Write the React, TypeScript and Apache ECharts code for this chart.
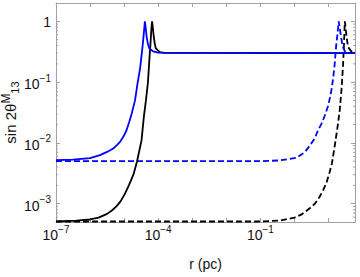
import React, { useEffect, useRef } from "react";
import * as echarts from "echarts";

// ---- data (r in pc, sin 2θ^M_13) ----
const blueSolidR = [1e-7, 3.16e-7, 1e-6, 1.95e-6, 3.16e-6, 4.79e-6, 6.03e-6, 7.59e-6, 9.55e-6, 1.17e-5, 1.41e-5, 1.66e-5, 2.09e-5, 2.51e-5, 2.95e-5, 3.31e-5, 3.63e-5, 3.89e-5, 4.07e-5, 4.37e-5, 4.57e-5, 5.01e-5, 5.5e-5, 7.08e-5, 1e-4, 60];
const blueSolidY = [5.2e-3, 5.3e-3, 5.6e-3, 6.3e-3, 7.1e-3, 8.1e-3, 9.1e-3, 0.0104, 0.0127, 0.016, 0.022, 0.03, 0.05, 0.1, 0.17, 0.3, 0.49, 0.75, 1.0, 0.72, 0.56, 0.42, 0.36, 0.32, 0.305, 0.3];

const blackSolidR = [1e-7, 3.98e-7, 1e-6, 1.78e-6, 3.16e-6, 4.47e-6, 6.03e-6, 7.94e-6, 1.05e-5, 1.38e-5, 1.91e-5, 2.4e-5, 3.24e-5, 3.8e-5, 4.37e-5, 5.01e-5, 5.5e-5, 6.03e-5, 6.31e-5, 6.61e-5, 7.08e-5, 7.41e-5, 7.94e-5, 8.51e-5, 1.12e-4, 1.58e-4, 60];
const blackSolidY = [5.1e-4, 5.25e-4, 5.5e-4, 5.9e-4, 6.8e-4, 7.8e-4, 9.1e-4, 1.1e-3, 1.45e-3, 2.0e-3, 3.1e-3, 5.0e-3, 0.011, 0.027, 0.05, 0.1, 0.23, 0.49, 0.75, 1.0, 0.72, 0.56, 0.43, 0.36, 0.31, 0.302, 0.3];

const blueDashR = [1e-7, 0.1, 0.372, 1.15, 2.0, 2.82, 3.98, 4.9, 6.31, 7.76, 9.66, 11.0, 12.2, 13.8, 15.1, 17.0, 18.6, 19.95, 21.4, 22.9, 25.7, 30.2, 39.8, 60];
const blueDashY = [5.0e-3, 5.0e-3, 5.15e-3, 5.7e-3, 7.0e-3, 9.0e-3, 0.012, 0.016, 0.021, 0.028, 0.04, 0.055, 0.074, 0.12, 0.19, 0.43, 0.65, 1.0, 0.78, 0.6, 0.4, 0.32, 0.305, 0.3];

const blackDashR = [1e-7, 0.1, 0.398, 1.0, 1.58, 2.82, 3.98, 5.5, 6.92, 8.71, 10.8, 12.6, 15.1, 19.1, 21.4, 24.0, 26.6, 28.5, 30.2, 33.1, 37.2, 46.8, 60];
const blackDashY = [5.1e-4, 5.1e-4, 5.3e-4, 5.9e-4, 6.6e-4, 8.4e-4, 1.0e-3, 1.3e-3, 1.66e-3, 2.2e-3, 3.3e-3, 4.6e-3, 8.6e-3, 0.021, 0.035, 0.074, 0.18, 0.43, 1.0, 0.63, 0.38, 0.32, 0.3];

const xMin = 1e-7;
const xMax = 60;
const yMin = 5e-4;
const yMax = 2;
const xLabelExps = [-7, -4, -1];
const yLabelExps = [0, -1, -2, -3];
const yMinorTicks = [
  6e-4, 7e-4, 8e-4, 9e-4,
  2e-3, 3e-3, 4e-3, 5e-3, 6e-3, 7e-3, 8e-3, 9e-3,
  2e-2, 3e-2, 4e-2, 5e-2, 6e-2, 7e-2, 8e-2, 9e-2,
  0.2, 0.3, 0.4, 0.5, 0.6, 0.7, 0.8, 0.9,
];

const FONT = "'Liberation Sans', Arial, sans-serif";
const TEXT = "#111";
const FRAME = "#a0a0a0";
const BLUE = "#0000ff";
const BLACK = "#000000";
const LW = 1.8;

function zip(r: number[], y: number[]) {
  return r.map((v, i) => [v, y[i]]);
}

function exponentOf(v: number): number | null {
  const e = Math.log10(v);
  const r = Math.round(e);
  return Math.abs(e - r) < 1e-6 ? r : null;
}

function powLabel(e: number) {
  if (e === 0) return "{b|1}";
  return `{b|10}{s|−${-e}}`;
}

const labelRich = {
  b: { fontSize: 14, lineHeight: 16, fontFamily: FONT, color: TEXT, verticalAlign: "bottom" },
  s: { fontSize: 10, lineHeight: 18, fontFamily: FONT, color: TEXT, verticalAlign: "top", padding: [0, 0, 4, 0] },
};

export default function App() {
  const ref = useRef<HTMLDivElement>(null);

  useEffect(() => {
    document.body.style.margin = "0";
    if (!ref.current) return;
    const chart = echarts.init(ref.current, null, { renderer: "svg" });

    const axisCommon = {
      type: "log" as const,
      logBase: 10,
      splitNumber: 10,
      axisLine: { show: true, lineStyle: { color: FRAME, width: 1 } },
      axisTick: { show: true, inside: true, length: 4, lineStyle: { color: FRAME, width: 1 } },
      splitLine: { show: false },
      minorTick: { show: false },
    };

    const option: any = {
      animation: false,
      backgroundColor: "#ffffff",
      grid: { left: 56, right: 5, top: 3, bottom: 55, containLabel: false, outerBoundsMode: "none" },
      xAxis: [
        {
          ...axisCommon,
          position: "bottom",
          min: xMin,
          max: xMax,
          name: "r (pc)",
          nameLocation: "middle",
          nameGap: 35,
          nameMoveOverlap: false,
          nameTextStyle: { fontSize: 14, fontFamily: FONT, color: TEXT },
          axisLabel: {
            show: true,
            margin: 2,
            formatter: (v: number) => {
              const e = exponentOf(v);
              if (e === null || !xLabelExps.includes(e)) return "";
              return powLabel(e);
            },
            rich: labelRich,
          },
        },
        {
          ...axisCommon,
          position: "top",
          min: xMin,
          max: xMax,
          axisLabel: { show: false },
        },
      ],
      yAxis: [
        {
          ...axisCommon,
          position: "left",
          min: yMin,
          max: yMax,
          name: "{a|sin 2θ}{sup|M}{sub|13}",
          nameLocation: "middle",
          nameGap: 36,
          nameMoveOverlap: false,
          nameTextStyle: {
            fontFamily: FONT,
            color: TEXT,
            rich: {
              a: { fontSize: 15, lineHeight: 20, fontFamily: FONT, color: TEXT },
              sup: { fontSize: 12, lineHeight: 10, fontFamily: FONT, color: TEXT, verticalAlign: "top" },
              sub: { fontSize: 11, lineHeight: 14, fontFamily: FONT, color: TEXT, verticalAlign: "bottom" },
            },
          },
          axisLabel: {
            show: true,
            margin: 5,
            formatter: (v: number) => {
              const e = exponentOf(v);
              if (e === null || !yLabelExps.includes(e)) return "";
              return powLabel(e);
            },
            rich: labelRich,
          },
        },
        {
          ...axisCommon,
          position: "right",
          min: yMin,
          max: yMax,
          axisLabel: { show: false },
        },
      ],
      series: [
        {
          type: "custom",
          name: "minorTicks",
          silent: true,
          clip: false,
          xAxisIndex: 0,
          yAxisIndex: 0,
          data: yMinorTicks.map((v) => [xMin, v]),
          encode: { x: 0, y: 1 },
          renderItem: (params: any, api: any) => {
            const cs = params.coordSys;
            const y = api.coord([api.value(0), api.value(1)])[1];
            const style = { stroke: FRAME, lineWidth: 1 };
            return {
              type: "group",
              children: [
                { type: "line", shape: { x1: cs.x, y1: y, x2: cs.x + 2, y2: y }, style },
                { type: "line", shape: { x1: cs.x + cs.width - 2, y1: y, x2: cs.x + cs.width, y2: y }, style },
              ],
            };
          },
        },
        {
          type: "line",
          name: "blackDashed",
          data: zip(blackDashR, blackDashY),
          showSymbol: false,
          clip: true,
          lineStyle: { color: BLACK, width: LW, type: [6, 3] },
        },
        {
          type: "line",
          name: "blueDashed",
          data: zip(blueDashR, blueDashY),
          showSymbol: false,
          clip: true,
          lineStyle: { color: BLUE, width: LW, type: [6, 3] },
        },
        {
          type: "line",
          name: "blackSolid",
          data: zip(blackSolidR, blackSolidY),
          showSymbol: false,
          clip: true,
          lineStyle: { color: BLACK, width: LW },
        },
        {
          type: "line",
          name: "blueSolid",
          data: zip(blueSolidR, blueSolidY),
          showSymbol: false,
          clip: true,
          lineStyle: { color: BLUE, width: LW },
        },
      ],
    };

    chart.setOption(option);
    return () => chart.dispose();
  }, []);

  return (
    <div
      ref={ref}
      style={{ position: "fixed", left: 0, top: 0, width: 360, height: 277, background: "#fff" }}
    />
  );
}
